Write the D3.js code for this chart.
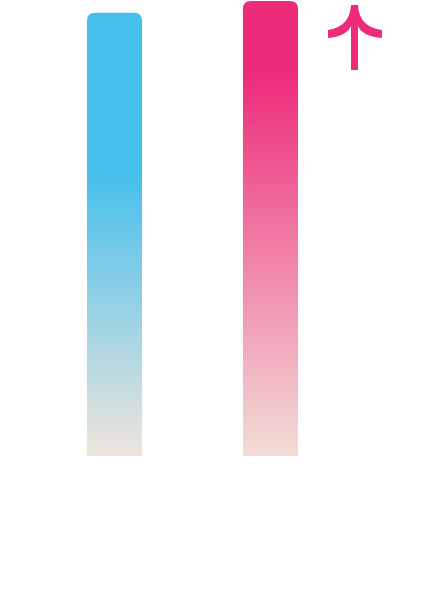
<!DOCTYPE html>
<html><head><meta charset="utf-8">
<script src="https://cdn.jsdelivr.net/npm/d3@7"></script>
<style>html,body{margin:0;padding:0;background:#fff;}svg{display:block;}</style>
</head><body>
<svg id="c" width="423" height="601"></svg>
<script>
const categories = ["A", "B"];
const values = [97.4, 100];
const topColors = ["#45BFEC", "#EE2A7B"];
const bottomColors = ["#EEE5DB", "#F2DDD6"];
const solidStops = [0.36, 0.15];

const svg = d3.select("#c");
const x = d3.scaleBand().domain(categories).range([36.5, 348.5]).paddingInner(0.647).paddingOuter(0.3237);
const y = d3.scaleLinear().domain([0, 100]).range([456, 1]);

const defs = svg.append("defs");
categories.forEach((c, i) => {
  const g = defs.append("linearGradient").attr("id", "g" + i).attr("x1", 0).attr("y1", 0).attr("x2", 0).attr("y2", 1);
  g.append("stop").attr("offset", 0).attr("stop-color", topColors[i]);
  g.append("stop").attr("offset", solidStops[i]).attr("stop-color", topColors[i]);
  g.append("stop").attr("offset", 1).attr("stop-color", bottomColors[i]);
});

function topRounded(x0, y0, w, h, r) {
  return `M${x0},${y0 + h}V${y0 + r}Q${x0},${y0} ${x0 + r},${y0}H${x0 + w - r}Q${x0 + w},${y0} ${x0 + w},${y0 + r}V${y0 + h}Z`;
}

svg.selectAll("path.bar").data(values).enter().append("path")
  .attr("class", "bar")
  .attr("d", (d, i) => topRounded(x(categories[i]), y(d), x.bandwidth(), y(0) - y(d), 8))
  .attr("fill", (d, i) => `url(#g${i})`);

// up-arrow icon
svg.append("path")
  .attr("fill", "#EE2A7B")
  .attr("d", "M328,30C341,28 350,21 351,5H358C359,21 368,28 382,30V38C369,37 361,33 358,26V70H351V26C348,33 340,37 328,38Z");
</script>
</body></html>
